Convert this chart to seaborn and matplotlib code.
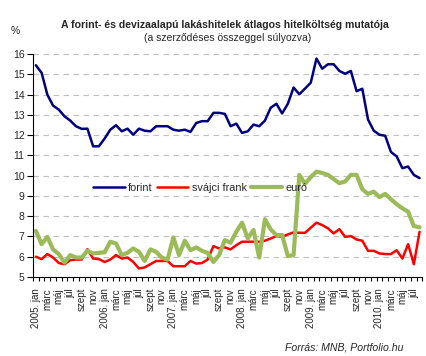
import matplotlib
matplotlib.use("Agg")
import matplotlib.pyplot as plt
import numpy as np
import pandas as pd
import seaborn as sns

# havi adatok, 2005 jan - 2010 aug
forint = [15.45, 15.08, 14.0, 13.46, 13.26, 12.93, 12.72, 12.44, 12.31, 12.32,
          11.45, 11.45, 11.83, 12.27, 12.49, 12.19, 12.32, 12.02, 12.32, 12.22,
          12.19, 12.44, 12.44, 12.44, 12.27, 12.22, 12.27, 12.16, 12.6, 12.69,
          12.69, 13.1, 13.1, 13.05, 12.44, 12.57, 12.11, 12.19, 12.52, 12.44,
          12.72, 13.35, 13.55, 13.07, 13.55, 14.35, 14.02, 14.3, 14.59, 15.78,
          15.28, 15.5, 15.5, 15.17, 15.03, 15.17, 14.17, 14.29, 12.77, 12.22,
          12.02, 11.97, 11.17, 10.95, 10.37, 10.45, 10.04, 9.88]
frank = [6.0, 5.88, 6.13, 5.96, 5.69, 5.63, 5.83, 5.86, 5.86, 6.37,
         5.91, 5.88, 5.74, 5.86, 6.08, 5.91, 5.96, 5.74, 5.42, 5.47,
         5.63, 5.79, 5.79, 5.79, 5.53, 5.53, 5.53, 5.79, 5.66, 5.69,
         5.86, 6.52, 6.41, 6.46, 6.36, 6.57, 6.74, 6.74, 6.74, 6.74,
         6.79, 6.9, 7.02, 6.98, 7.1, 7.2, 7.18, 7.18, 7.43, 7.68,
         7.56, 7.4, 7.15, 7.36, 6.98, 7.02, 6.85, 6.79, 6.29, 6.29,
         6.16, 6.13, 6.13, 6.32, 5.91, 6.62, 5.63, 7.23]
euro = [7.27, 6.62, 6.98, 6.36, 6.13, 5.71, 6.08, 5.96, 5.96, 6.29,
        6.16, 6.19, 6.22, 6.74, 6.65, 6.08, 6.19, 6.41, 6.24, 5.79,
        6.36, 6.24, 5.95, 5.86, 6.95, 6.08, 6.79, 6.32, 6.46, 6.29,
        6.19, 5.74, 6.08, 6.82, 6.69, 7.23, 7.68, 6.9, 7.32, 5.96,
        7.85, 7.35, 7.07, 7.07, 6.03, 6.08, 10.04, 9.6, 9.93, 10.2,
        10.13, 10.04, 9.83, 9.63, 9.71, 10.04, 10.04, 9.33, 9.1, 9.21,
        8.94, 9.1, 8.84, 8.59, 8.39, 8.22, 7.51, 7.45]

months = ['jan', 'márc', 'máj', 'júl', 'szept', 'nov']
years = [2005, 2006, 2007, 2008, 2009, 2010]

tick_labels = []
for y in years:
    for m in months:
        if m == 'jan':
            tick_labels.append(f'{y}. jan')
        else:
            tick_labels.append(m)
tick_labels = tick_labels[:34]  # 2010 júl-ig

n = len(forint)
df = pd.DataFrame({
    'ho': list(range(n)) * 3,
    'ertek': forint + frank + euro,
    'sorozat': ['forint'] * n + ['svájci frank'] * n + ['euró'] * n,
})

sns.set_style('white')
plt.rcParams['font.family'] = ['Liberation Sans', 'DejaVu Sans']

fig = plt.figure(figsize=(4.27, 3.56), dpi=100)
ax = fig.add_axes([0.0773, 0.222, 0.912, 0.626])

palette = {'forint': '#000080', 'svájci frank': '#FF0000', 'euró': '#9BBB59'}
sns.lineplot(data=df, x='ho', y='ertek', hue='sorozat', palette=palette,
             ax=ax, legend=False)
widths = [1.8, 1.8, 3.0]
for line, w in zip(ax.get_lines(), widths):
    line.set_linewidth(w)
    line.set_solid_joinstyle('round')

ax.set_xlim(-0.5, n - 0.5)
ax.set_ylim(5, 16)
ax.set_yticks(range(5, 17))
ax.set_xticks(range(0, 2 * len(tick_labels), 2))
ax.set_xticklabels(tick_labels, rotation=90, fontsize=7)
ax.set_xticks(np.arange(-0.5, n, 1), minor=True)
ax.tick_params(axis='x', which='major', length=0, pad=8)
ax.tick_params(axis='x', which='minor', length=3, width=0.8, direction='out',
               color='black', bottom=True)
ax.tick_params(axis='y', labelsize=7.5, length=4, width=0.8, direction='out',
               color='black', left=True, pad=2)
ax.set_xlabel('')
ax.set_ylabel('')

for v in range(6, 17):
    ax.axhline(v, color='#C0C0C0', lw=0.8, ls=(0, (5, 4)), zorder=0)

for s in ['top', 'right']:
    ax.spines[s].set_visible(False)
for s in ['left', 'bottom']:
    ax.spines[s].set_color('black')
    ax.spines[s].set_linewidth(0.8)

handles = [plt.Line2D([], [], color=palette[k], lw=w)
           for k, w in zip(palette, widths)]
ax.legend(handles, list(palette), ncol=3, frameon=False, fontsize=7.8,
          loc='center', bbox_to_anchor=(0.43, 0.40), handlelength=2.9,
          handletextpad=0.3, columnspacing=0.4)

fig.text(0.527, 0.93, 'A forint- és devizaalapú lakáshitelek átlagos hitelköltség mutatója',
         ha='center', va='center', fontsize=7.6, fontweight='bold')
fig.text(0.532, 0.893, '(a szerződéses összeggel súlyozva)',
         ha='center', va='center', fontsize=7.5)
fig.text(0.035, 0.912, '%', ha='center', va='center', fontsize=7.5)
fig.text(0.945, 0.025, 'Forrás: MNB, Portfolio.hu', ha='right', va='center',
         fontsize=7.6, style='italic')

fig.savefig('out.png', dpi=100)
